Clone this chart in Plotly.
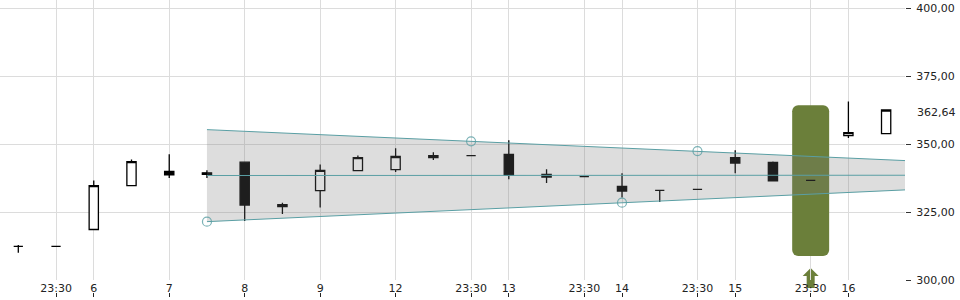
import plotly.graph_objects as go

# ---- data ----
idx = list(range(24))
open_ = [312.4, 312.4, 318.6, 334.8, 340.05, 339.5, 343.4, 327.8, 332.9, 340.3, 340.7, 345.1,
         345.8, 346.3, 338.9, 338.1, 334.5, 333.05, 333.4, 345.1, 343.3, 336.7, 353.2, 353.9]
high = [312.9, 312.4, 336.7, 344.4, 346.3, 340.4, 343.7, 328.5, 342.6, 345.9, 348.5, 347.05,
        345.8, 351.5, 340.8, 338.1, 339.3, 333.05, 333.4, 347.8, 343.7, 336.7, 365.8, 362.64]
low = [310.0, 312.4, 318.6, 334.8, 337.6, 337.6, 321.7, 324.3, 326.7, 340.3, 339.8, 344.2,
       345.8, 337.1, 335.7, 338.1, 330.4, 328.7, 333.4, 339.3, 336.5, 336.7, 352.3, 353.9]
close = [312.4, 312.4, 334.8, 343.6, 338.7, 338.9, 327.6, 327.0, 340.4, 345.1, 345.5, 345.8,
         345.8, 338.6, 337.95, 338.1, 332.8, 333.05, 333.4, 343.1, 336.5, 336.7, 354.3, 362.64]

tick_pos = [1, 2, 4, 6, 8, 10, 12, 13, 15, 16, 18, 19, 21, 22]
tick_text = ["23:30", "6", "7", "8", "9", "12", "23:30", "13", "23:30", "14", "23:30", "15", "23:30", "16"]
y_ticks = [300, 325, 350, 375, 400]

channel_x = [5, 23.5]
channel_upper = [355.4, 344.0]
channel_mid = [338.5, 338.6]
channel_lower = [321.5, 333.2]
touch_x = [5, 12, 16, 18]
touch_y = [321.5, 351.1, 328.5, 347.5]

signal_x = [21]
signal_low = [308.8]
signal_high = [364.4]
last_price = 362.64

TEAL = "#5a9fa4"
GREEN = "#6b7f3a"
GRID = "#dcdcdc"

fig = go.Figure()

# signal box (rounded bar)
fig.add_trace(go.Bar(
    x=signal_x, base=signal_low, y=[h - l for h, l in zip(signal_high, signal_low)],
    width=0.98, marker=dict(color=GREEN, cornerradius=6, line=dict(width=0)),
    hoverinfo="skip", showlegend=False))

# channel band
fig.add_trace(go.Scatter(x=channel_x, y=channel_lower, mode="lines",
                         line=dict(color=TEAL, width=1), hoverinfo="skip", showlegend=False))
fig.add_trace(go.Scatter(x=channel_x, y=channel_upper, mode="lines", fill="tonexty",
                         fillcolor="rgba(120,120,120,0.25)",
                         line=dict(color=TEAL, width=1), hoverinfo="skip", showlegend=False))
fig.add_trace(go.Scatter(x=channel_x, y=channel_mid, mode="lines",
                         line=dict(color=TEAL, width=1), hoverinfo="skip", showlegend=False))
fig.add_trace(go.Scatter(x=touch_x, y=touch_y, mode="markers",
                         marker=dict(symbol="circle-open", size=9, color="rgba(90,159,164,0.8)",
                                     line=dict(width=1.2)),
                         hoverinfo="skip", showlegend=False))

# candles
fig.add_trace(go.Candlestick(
    x=idx, open=open_, high=high, low=low, close=close,
    increasing=dict(fillcolor="white", line=dict(color="black", width=1.3)),
    decreasing=dict(fillcolor="black", line=dict(color="black", width=1.3)),
    whiskerwidth=0, hoverinfo="skip", showlegend=False))

# helper trace for bottom tick axis
fig.add_trace(go.Scatter(x=[0, 23], y=[0, 1], xaxis="x2", yaxis="y2", mode="lines",
                         line=dict(width=0), showlegend=False, hoverinfo="skip"))

# arrow below signal
fig.add_shape(type="path", xref="x", yref="paper", xsizemode="pixel", ysizemode="pixel",
              xanchor=signal_x[0], yanchor=0,
              path="M -8,24 L 0,32 L 8,24 L 4,24 L 4,12 L -4,12 L -4,24 Z",
              fillcolor=GREEN, line=dict(width=0), layer="below")

fig.add_annotation(xref="paper", x=1, y=last_price, yref="y", text="362,64",
                   showarrow=False, xanchor="left", xshift=10, yshift=-2,
                   font=dict(size=11, color="#222"))

fig.update_layout(
    width=960, height=300, autosize=False,
    margin=dict(l=0, r=55, t=0, b=0, pad=0, autoexpand=False),
    paper_bgcolor="white", plot_bgcolor="white",
    font=dict(family="DejaVu Sans", size=11, color="#222"),
    separators=",.",
    boxgap=0.65,
    showlegend=False,
    xaxis=dict(domain=[0, 1], range=[-0.485, 23.5], tickmode="array", tickvals=tick_pos,
               ticktext=tick_text, showgrid=True, gridcolor=GRID, gridwidth=1, ticks="",
               showline=False, zeroline=False, rangeslider=dict(visible=False), anchor="y",
               automargin=False),
    yaxis=dict(domain=[20 / 300, 1], range=[300, 300 + 280 / 2.714], side="right",
               tickmode="array", tickvals=y_ticks, tickformat=".2f", ticks="outside",
               ticklen=5, tickcolor="#333", ticklabelstandoff=3, showgrid=True,
               gridcolor=GRID, gridwidth=1, showline=False, zeroline=False, anchor="x",
               automargin=False),
    xaxis2=dict(domain=[0, 1], range=[-0.485, 23.5], anchor="y2", tickmode="array",
                tickvals=tick_pos, showticklabels=False, ticks="inside", ticklen=4,
                tickcolor="#222", tickwidth=1, showgrid=False, showline=False,
                zeroline=False, automargin=False),
    yaxis2=dict(domain=[3 / 300, 5 / 300], range=[0, 1], showticklabels=False, showgrid=False,
                zeroline=False, showline=False, ticks="", anchor="x2", automargin=False),
)

fig.write_html("out.html")
